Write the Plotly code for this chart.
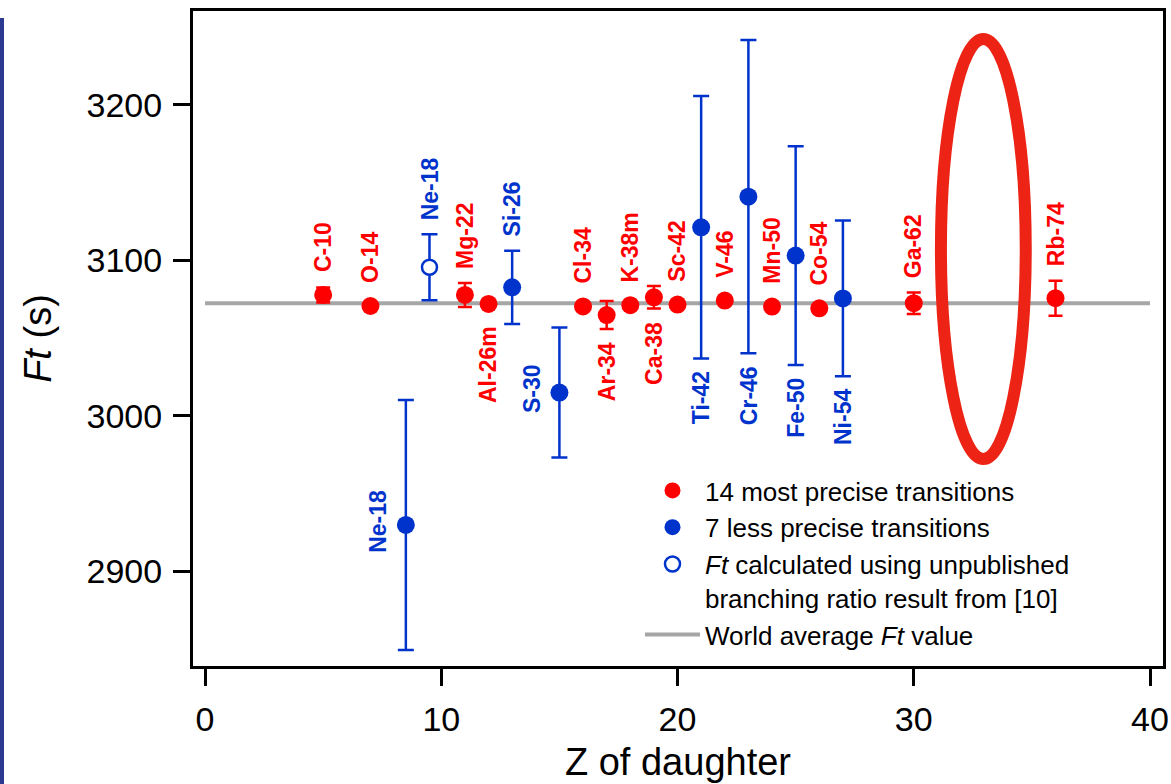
import plotly.graph_objects as go

# ---------------- data ----------------
red_labels = ["C-10", "O-14", "Mg-22", "Al-26m", "Cl-34", "Ar-34", "K-38m",
              "Ca-38", "Sc-42", "V-46", "Mn-50", "Co-54", "Ga-62", "Rb-74"]
red_z = [5, 7, 11, 12, 16, 17, 18, 19, 20, 22, 24, 26, 30, 36]
red_ft = [3077.8, 3070.7, 3077.8, 3072.0, 3070.4, 3064.9, 3071.2,
          3076.3, 3071.6, 3074.2, 3070.3, 3069.2, 3072.5, 3075.7]
red_err = [4.8, 2.5, 7.7, 1.0, 1.5, 9.0, 1.5, 7.2, 2.0, 2.0, 1.5, 1.5, 6.9, 11.3]
red_side = ["above", "above", "above", "below", "above", "below", "above",
            "below", "above", "above", "above", "above", "above", "above"]

blue_labels = ["Ne-18", "Si-26", "S-30", "Ti-42", "Cr-46", "Fe-50", "Ni-54"]
blue_z = [8.5, 13, 15, 21, 23, 25, 27]
blue_ft = [2929.9, 3082.7, 3015.0, 3121.3, 3141.0, 3103.1, 3075.6]
blue_err = [80.4, 23.5, 41.8, 84.4, 100.7, 70.4, 50.0]
blue_side = ["left", "above", "left", "below", "below", "below", "below"]

open_labels = ["Ne-18"]
open_z = [9.5]
open_ft = [3095.6]
open_err = [21.2]
open_side = ["above"]

world_avg_ft = 3072.4
world_z = [0, 40]

x_ticks = [0, 10, 20, 30, 40]
y_ticks = [2900, 3000, 3100, 3200]

# ---------------- style / layout ----------------
W, H = 1171, 784
ML, MR, MT, MB = 193, 8, 11, 118
XR = [-0.51, 40.55]
YR = [2839.2, 3260.4]
RED = "#FF0000"
BLUE = "#0033CC"
FONT = "Liberation Sans, Arial, sans-serif"
plot_h = H - MT - MB
ppu = plot_h / (YR[1] - YR[0])  # pixels per y unit
MR_PX = 9  # marker radius

fig = go.Figure()

fig.add_trace(go.Scatter(
    x=world_z, y=[world_avg_ft] * len(world_z), mode="lines",
    line=dict(color="#A6A6A6", width=4),
    name="World average <i>Ft</i> value", legendrank=4))

fig.add_trace(go.Scatter(
    x=red_z, y=red_ft, mode="markers",
    marker=dict(color=RED, size=18),
    error_y=dict(type="data", array=red_err, color=RED, thickness=2.5, width=7),
    name="14 most precise transitions", legendrank=1))

fig.add_trace(go.Scatter(
    x=blue_z, y=blue_ft, mode="markers",
    marker=dict(color=BLUE, size=18),
    error_y=dict(type="data", array=blue_err, color=BLUE, thickness=2.5, width=8),
    name="7 less precise transitions", legendrank=2))

fig.add_trace(go.Scatter(
    x=open_z, y=open_ft, mode="markers",
    marker=dict(color="white", size=15, line=dict(color=BLUE, width=2.5)),
    error_y=dict(type="data", array=open_err, color=BLUE, thickness=2.5, width=8),
    name="<i>Ft</i> calculated using unpublished<br>branching ratio result from [10]",
    legendrank=3))


def add_labels(labels, zs, fts, errs, sides, color):
    for lab, z, ft, e, side in zip(labels, zs, fts, errs, sides):
        epx = e * ppu
        common = dict(text="<b>%s</b>" % lab, x=z, xref="x", yref="y",
                      textangle=-90, showarrow=False,
                      font=dict(family=FONT, size=23, color=color))
        if side == "above":
            fig.add_annotation(y=ft + e, yanchor="bottom", xanchor="center",
                               yshift=12 + max(0, MR_PX - epx), **common)
        elif side == "below":
            fig.add_annotation(y=ft - e, yanchor="top", xanchor="center",
                               yshift=-(11 + max(0, MR_PX - epx)), **common)
        else:
            fig.add_annotation(y=ft, yanchor="middle", xanchor="right",
                               xshift=-13, yshift=4, **common)


add_labels(red_labels, red_z, red_ft, red_err, red_side, RED)
add_labels(blue_labels, blue_z, blue_ft, blue_err, blue_side, BLUE)
add_labels(open_labels, open_z, open_ft, open_err, open_side, BLUE)

# highlight ellipse
fig.add_shape(type="circle", xref="x", yref="y",
              x0=31.15, x1=34.74, y0=2972.3, y1=3242.4,
              line=dict(color="#EC2315", width=12), layer="above")

# blue bar at the left page edge
pw = W - ML - MR
fig.add_shape(type="rect", xref="paper", yref="paper",
              x0=-ML / pw, x1=-(ML - 4) / pw,
              y0=-MB / plot_h, y1=1 + (MT - 18) / plot_h,
              line=dict(width=0), fillcolor="#2B3990", layer="above")

axis_common = dict(showgrid=False, zeroline=False, showline=True, mirror=True,
                   linecolor="black", linewidth=3, ticks="outside",
                   ticklen=17, tickwidth=3, tickcolor="black",
                   tickfont=dict(family=FONT, size=34, color="black"))

fig.update_layout(
    width=W, height=H,
    margin=dict(l=ML, r=MR, t=MT, b=MB, autoexpand=False),
    paper_bgcolor="white", plot_bgcolor="white",
    font=dict(family=FONT, color="black"),
    showlegend=True,
    legend=dict(x=(640 - ML) / pw, y=1 - (467 - MT) / plot_h,
                xanchor="left", yanchor="top",
                bgcolor="rgba(0,0,0,0)", borderwidth=0,
                font=dict(family=FONT, size=26, color="black"),
                itemwidth=55, valign="top", tracegroupgap=0,
                traceorder="normal"),
    xaxis=dict(range=XR, tickvals=x_ticks, ticklabelstandoff=4,
               title=dict(text="Z of daughter",
                          font=dict(family=FONT, size=38), standoff=12),
               **axis_common),
    yaxis=dict(range=YR, tickvals=y_ticks, ticklabelstandoff=4,
               title=dict(text="<i>Ft</i> (s)",
                          font=dict(family=FONT, size=38), standoff=24),
               **axis_common),
)

fig.write_html("out.html")
